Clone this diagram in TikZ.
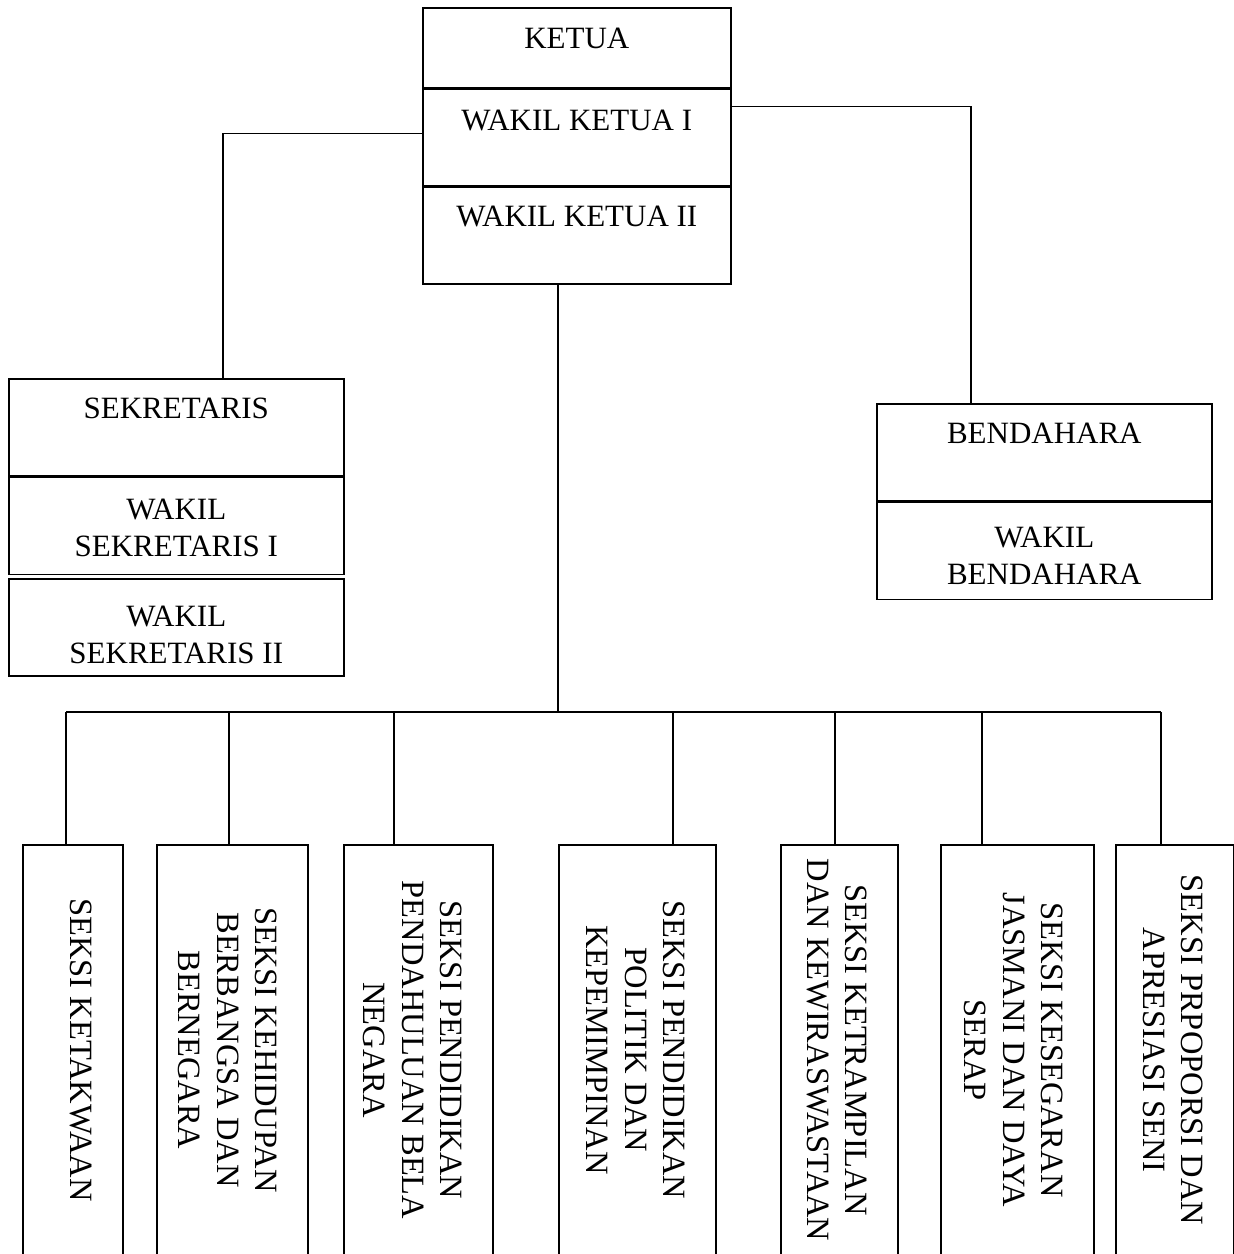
\documentclass[tikz,border=0pt]{standalone}
\usepackage{fontspec}
\setmainfont{Liberation Serif}
\usetikzlibrary{positioning}

\begin{document}
\begin{tikzpicture}[
    x=1pt, y=-1pt, % one unit per pixel, y runs downward
    every node/.style={font=\fontsize{31}{37}\selectfont, inner sep=0pt},
    cell/.style={draw, line width=1.6pt, anchor=north west, minimum height=97pt},
    celltext/.style={anchor=north, align=center}, % text hangs from the cell top
    seksi/.style={draw, line width=1.6pt, anchor=north west, minimum height=430pt},
    seksitext/.style={anchor=north, align=center, rotate=-90, font=\fontsize{32.5}{38.5}\selectfont},
    link/.style={line width=1.6pt}
  ]
\useasboundingbox (0,0) rectangle (1234,1254);
\clip (0,0) rectangle (1234,1254);

% ketua block
\node[cell, minimum width=308pt, minimum height=80pt] (ketua) at (422,7) {};
\node[cell, minimum width=308pt, minimum height=96pt, below=0pt of ketua] (wakili) {};
\node[cell, minimum width=308pt, below=0pt of wakili] (wakilii) {};
\node[celltext] at ([yshift=-21pt]ketua.north) {KETUA};
\node[celltext] at ([yshift=-21pt]wakili.north) {WAKIL KETUA I};
\node[celltext] at ([yshift=-20pt]wakilii.north) {WAKIL KETUA II};

% sekretaris block
\node[cell, minimum width=335pt] (sek) at (8,378) {};
\node[cell, minimum width=335pt, below=0pt of sek] (wsekI) {};
\node[cell, minimum width=335pt, below=3pt of wsekI] (wsekII) {};
\node[celltext] at ([yshift=-20pt]sek.north) {SEKRETARIS};
\node[celltext] at ([yshift=-22pt]wsekI.north) {WAKIL\\SEKRETARIS I};
\node[celltext] at ([yshift=-28pt]wsekII.north) {WAKIL\\SEKRETARIS II};

% bendahara block
\node[cell, minimum width=335pt] (bend) at (876,403) {};
\node[cell, minimum width=335pt, below=0pt of bend] (wbend) {};
\node[celltext] at ([yshift=-20pt]bend.north) {BENDAHARA};
\node[celltext] at ([yshift=-25pt]wbend.north) {WAKIL\\BENDAHARA};

% seksi columns
\node[seksi, minimum width=100pt] (s1) at (22,844) {};
\node[seksi, minimum width=151pt] (s2) at (156,844) {};
\node[seksi, minimum width=149pt] (s3) at (343,844) {};
\node[seksi, minimum width=157pt] (s4) at (558,844) {};
\node[seksi, minimum width=117pt] (s5) at (780,844) {};
\node[seksi, minimum width=153pt] (s6) at (940,844) {};
\node[seksi, minimum width=118pt] (s7) at (1115,844) {};
\node[seksitext] at ([xshift=-31pt, yshift=-206pt]s1.north east) {SEKSI KETAKWAAN};
\node[seksitext] at ([xshift=-31pt, yshift=-206pt]s2.north east) {SEKSI KEHIDUPAN\\BERBANGSA DAN\\BERNEGARA};
\node[seksitext] at ([xshift=-31pt, yshift=-206pt]s3.north east) {SEKSI PENDIDIKAN\\PENDAHULUAN BELA\\NEGARA};
\node[seksitext] at ([xshift=-31pt, yshift=-206pt]s4.north east) {SEKSI PENDIDIKAN\\POLITIK DAN\\KEPEMIMPINAN};
\node[seksitext] at ([xshift=-31pt, yshift=-206pt]s5.north east) {SEKSI KETRAMPILAN\\DAN KEWIRASWASTAAN};
\node[seksitext] at ([xshift=-31pt, yshift=-206pt]s6.north east) {SEKSI KESEGARAN\\JASMANI DAN DAYA\\SERAP};
\node[seksitext] at ([xshift=-31pt, yshift=-206pt]s7.north east) {SEKSI PRPOPORSI DAN\\APRESIASI SENI};

% connectors
\draw[link] ([yshift=4pt]wakili.west) -| ([xshift=46.5pt]sek.north);
\draw[link] ([yshift=31pt]wakili.east) -| ([xshift=-73.5pt]bend.north);
\coordinate (trunk) at (558,712);
\draw[link] (trunk |- wakilii.south) -- (trunk);
\coordinate (d1) at (66,712);
\coordinate (d2) at (229,712);
\coordinate (d3) at (394,712);
\coordinate (d4) at (673,712);
\coordinate (d5) at (835,712);
\coordinate (d6) at (982,712);
\coordinate (d7) at (1161,712);
\draw[link] (d1) -- (d7); % bus
\draw[link] (d1) -- (d1 |- s1.north);
\draw[link] (d2) -- (d2 |- s2.north);
\draw[link] (d3) -- (d3 |- s3.north);
\draw[link] (d4) -- (d4 |- s4.north);
\draw[link] (d5) -- (d5 |- s5.north);
\draw[link] (d6) -- (d6 |- s6.north);
\draw[link] (d7) -- (d7 |- s7.north);
\end{tikzpicture}
\end{document}
